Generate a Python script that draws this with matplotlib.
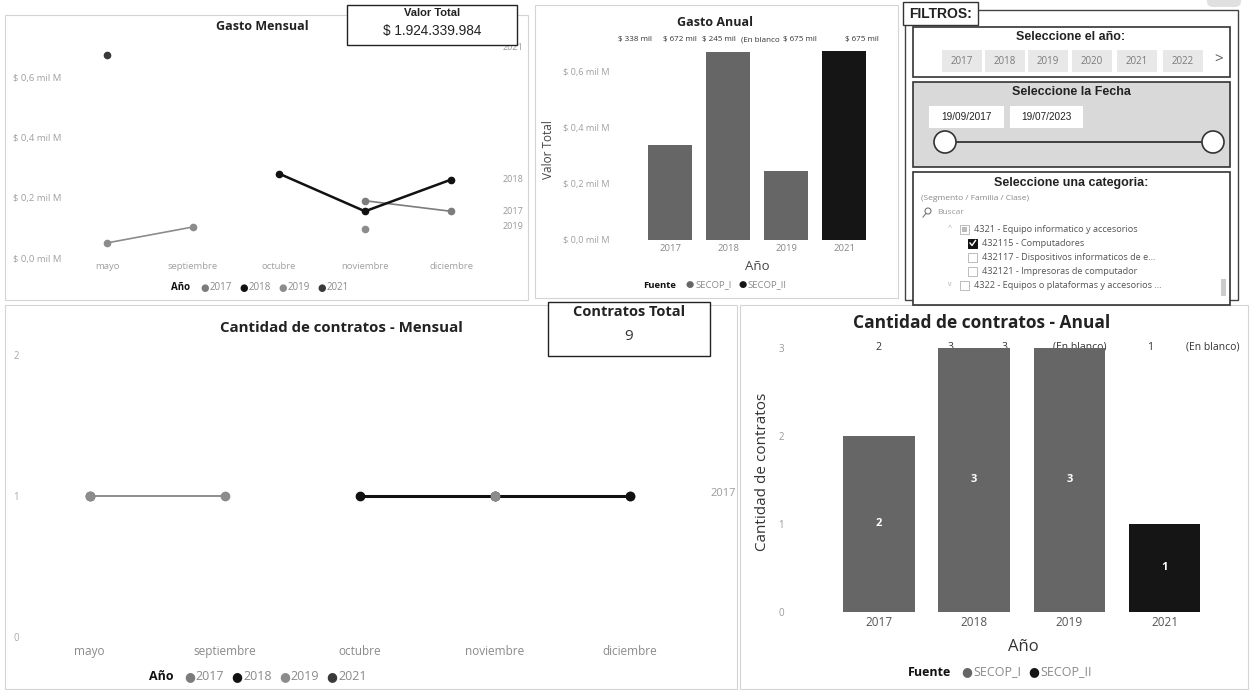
import numpy as np
import matplotlib
matplotlib.use('Agg')
import matplotlib.pyplot as plt
from matplotlib.patches import Rectangle, Circle, FancyBboxPatch

W, H = 1250, 690
nan = np.nan

# ---- datos ----
meses = ['mayo', 'septiembre', 'octubre', 'noviembre', 'diciembre']
anios = ['2017', '2018', '2019', '2021']

# gasto mensual (mil M)
gasto_2017 = [nan, nan, nan, 0.19, 0.155]
gasto_2018 = [nan, nan, 0.28, 0.155, 0.26]
gasto_2019 = [0.05, 0.103, nan, 0.097, nan]
gasto_2021 = [0.675, nan, nan, nan, nan]

# cantidad de contratos mensual
cont_2017 = [nan, nan, nan, 1, 1]
cont_2018 = [nan, nan, 1, 1, 1]
cont_2019 = [1, 1, nan, 1, nan]
cont_2021 = [1, nan, nan, nan, nan]

# anual
fuente_anual = ['SECOP_I', 'SECOP_I', 'SECOP_I', 'SECOP_II']
gasto_anual = [0.338, 0.672, 0.245, 0.675]
cont_anual = [2, 3, 3, 1]
etiq_gasto = ['$ 338 mil', '$ 672 mil', '$ 245 mil', '(En blanco', '$ 675 mil', '$ 675 mil']
etiq_cont = ['2', '3', '3', '(En blanco)', '1', '(En blanco)']

valor_total = 1924339984

anios_filtro = ['2017', '2018', '2019', '2020', '2021', '2022']
fecha_ini, fecha_fin = '19/09/2017', '19/07/2023'
categorias = ['4321 - Equipo informatico y accesorios',
              '432115 - Computadores',
              '432117 - Dispositivos informaticos de e...',
              '432121 - Impresoras de computador',
              '4322 - Equipos o plataformas y accesorios ...']

col_anio = {'2017': '#7c7c7c', '2018': '#111111', '2019': '#8c8c8c', '2021': '#3a3a3a'}
col_fuente = {'SECOP_I': '#666666', 'SECOP_II': '#151515'}

SEGOE = ['Open Sans', 'DejaVu Sans']
ARIAL = ['Liberation Sans', 'DejaVu Sans']

fig = plt.figure(figsize=(12.5, 6.9), dpi=100)
fig.patch.set_facecolor('white')

bg = fig.add_axes([0, 0, 1, 1])
bg.set_xlim(0, W)
bg.set_ylim(H, 0)
bg.axis('off')


def rect_px(x0, y0, x1, y1):
    return [x0 / W, 1 - y1 / H, (x1 - x0) / W, (y1 - y0) / H]


def clean(ax):
    ax.set_facecolor('none')
    for s in ax.spines.values():
        s.set_visible(False)
    ax.tick_params(length=0)


def box(ax, x0, y0, x1, y1, fc='none', ec='#333333', lw=1.0, z=1):
    ax.add_patch(Rectangle((x0, y0), x1 - x0, y1 - y0, fc=fc, ec=ec, lw=lw, zorder=z))


def legend_row(cx, y, title, labels, colors, fs, lab_color='#8a8a8a'):
    r = fig.canvas.get_renderer()
    parts = [(title, '#111111', 'bold', 10)]
    for lab, c in zip(labels, colors):
        parts.append(('●', c, 'normal', 1))
        parts.append((lab, lab_color, 'normal', 7))
    texts = []
    for s, c, w, g in parts:
        t = bg.text(0, y, s, fontsize=fs, color=c, fontweight=w, va='center',
                    ha='left', family=SEGOE)
        texts.append((t, g))
    widths = [t.get_window_extent(r).width for t, g in texts]
    total = sum(widths) + sum(g for t, g in texts[:-1])
    x = cx - total / 2
    for (t, g), w in zip(texts, widths):
        t.set_x(x)
        x += w + g


# panel borders
for (x0, y0, x1, y1) in [(5, 15, 528, 300), (535, 5, 898, 298),
                         (5, 305, 737, 689), (740, 305, 1248, 689)]:
    box(bg, x0, y0, x1, y1, ec='#d4d4d4', lw=0.8)

# ---- Gasto Mensual ----
ax1 = fig.add_axes(rect_px(64, 41, 494, 258))
clean(ax1)
x = np.arange(len(meses))
series_g = {'2021': gasto_2021, '2017': gasto_2017, '2018': gasto_2018, '2019': gasto_2019}
for a, vals in series_g.items():
    ax1.plot(x, vals, '-o', color=col_anio[a], lw=1.8 if a == '2018' else 1.2,
             ms=4.5, zorder=3)
    v = np.array(vals, dtype=float)
    last = v[~np.isnan(v)][-1]
    off = {'2021': 0.025, '2018': 0.0, '2017': 0.0, '2019': 0.006}[a]
    ax1.text(4.6, last + off, a, fontsize=6.5, color='#999999', va='center',
             family=SEGOE, clip_on=False)
ax1.set_xlim(-0.5, 4.5)
ax1.set_ylim(0, 0.72)
ax1.set_xticks(x)
ax1.set_xticklabels(meses, fontsize=6.8, color='#a0a0a0', family=SEGOE)
ax1.set_yticks([0, 0.2, 0.4, 0.6])
ax1.set_yticklabels(['$ 0,0 mil M', '$ 0,2 mil M', '$ 0,4 mil M', '$ 0,6 mil M'],
                    fontsize=6.8, color='#a0a0a0', family=SEGOE)
ax1.tick_params(axis='x', pad=3)
ax1.tick_params(axis='y', pad=2)
bg.text(262, 27, 'Gasto Mensual', fontsize=9, fontweight='bold', ha='center',
        va='center', family=SEGOE, color='#222222')
legend_row(260, 288, 'Año', anios, [col_anio[a] for a in anios], 7)

# ---- Gasto Anual ----
ax2 = fig.add_axes(rect_px(612, 40, 880, 240))
clean(ax2)
xb = np.arange(len(anios))
ax2.bar(xb, gasto_anual, width=0.77, color=[col_fuente[f] for f in fuente_anual])
ax2.set_xlim(-1.0, 3.62)
ax2.set_ylim(0, 0.714)
ax2.set_xticks(xb)
ax2.set_xticklabels(anios, fontsize=6.8, color='#888888', family=SEGOE)
ax2.set_yticks([0, 0.2, 0.4, 0.6])
ax2.set_yticklabels(['$ 0,0 mil M', '$ 0,2 mil M', '$ 0,4 mil M', '$ 0,6 mil M'],
                    fontsize=6.6, color='#a0a0a0', family=SEGOE)
ax2.tick_params(axis='y', pad=2)
ax2.tick_params(axis='x', pad=3)
for s, px in zip(etiq_gasto, [635, 680, 719, 760, 800, 862]):
    bg.text(px, 40, s, fontsize=5.8, color='#333333', ha='center', va='center', family=SEGOE)
bg.text(715, 22, 'Gasto Anual', fontsize=9, fontweight='bold', ha='center',
        va='center', family=SEGOE, color='#222222')
bg.text(548, 150, 'Valor Total', fontsize=8.5, rotation=90, ha='center', va='center',
        family=SEGOE, color='#444444')
bg.text(757, 267, 'Año', fontsize=9.5, ha='center', va='center', family=SEGOE, color='#444444')
legend_row(715, 285, 'Fuente', ['SECOP_I', 'SECOP_II'],
           [col_fuente['SECOP_I'], col_fuente['SECOP_II']], 6.8)

# ---- Cantidad de contratos - Mensual ----
ax3 = fig.add_axes(rect_px(22, 355, 697, 637))
clean(ax3)
series_c = {'2021': cont_2021, '2017': cont_2017, '2018': cont_2018, '2019': cont_2019}
for a, vals in series_c.items():
    ax3.plot(x, vals, '-o', color=col_anio[a], lw=2.2 if a == '2018' else 1.4,
             ms=6, zorder=3)
ax3.text(4.6, 1.02, '2017', fontsize=8, color='#999999', va='center', family=SEGOE,
         clip_on=False)
ax3.set_xlim(-0.5, 4.5)
ax3.set_ylim(0, 2)
ax3.set_xticks(x)
ax3.set_xticklabels(meses, fontsize=8.5, color='#8a8a8a', family=SEGOE)
ax3.set_yticks([0, 1, 2])
ax3.set_yticklabels(['0', '1', '2'], fontsize=7, color='#aaaaaa', family=SEGOE)
ax3.tick_params(axis='y', pad=2)
ax3.tick_params(axis='x', pad=6)
bg.text(341, 328, 'Cantidad de contratos - Mensual', fontsize=10.8, fontweight='bold',
        ha='center', va='center', family=SEGOE, color='#222222')
legend_row(258, 677, 'Año', anios, [col_anio[a] for a in anios], 9)

# ---- Cantidad de contratos - Anual ----
ax4 = fig.add_axes(rect_px(795, 339, 1240, 612))
clean(ax4)
ax4.bar(xb, cont_anual, width=0.75, color=[col_fuente[f] for f in fuente_anual])
for i, v in enumerate(cont_anual):
    ax4.text(i, v / 2, str(v), color='white', fontsize=8, fontweight='bold',
             ha='center', va='center', family=SEGOE)
ax4.set_xlim(-0.88, 3.79)
ax4.set_ylim(0, 3.1)
ax4.set_xticks(xb)
ax4.set_xticklabels(anios, fontsize=8.5, color='#555555', family=SEGOE)
ax4.set_yticks([0, 1, 2, 3])
ax4.set_yticklabels(['0', '1', '2', '3'], fontsize=7, color='#999999', family=SEGOE)
ax4.tick_params(axis='y', pad=8)
ax4.tick_params(axis='x', pad=3)
for s, px in zip(etiq_cont, [878, 950, 1005, 1080, 1150, 1213]):
    bg.text(px, 347, s, fontsize=7.5, color='#333333', ha='center', va='center', family=SEGOE)
bg.text(982, 323, 'Cantidad de contratos - Anual', fontsize=12.5, fontweight='bold',
        ha='center', va='center', family=SEGOE, color='#222222')
bg.text(763, 472, 'Cantidad de contratos', fontsize=11, rotation=90, ha='center',
        va='center', family=SEGOE, color='#333333')
bg.text(1023, 647, 'Año', fontsize=12, ha='center', va='center', family=SEGOE, color='#333333')
legend_row(1000, 672, 'Fuente', ['SECOP_I', 'SECOP_II'],
           [col_fuente['SECOP_I'], col_fuente['SECOP_II']], 9)

# ---- Filtros ----
bg.add_patch(FancyBboxPatch((1207, -8), 34, 15, boxstyle='round,pad=0,rounding_size=6',
                            fc='#e0e0e0', ec='none'))
box(bg, 905, 10, 1238, 300, ec='#444444', lw=1.0)
box(bg, 903, 2, 978, 25, fc='white', ec='#333333', lw=1.0, z=2)
bg.text(909, 14, 'FILTROS:', fontsize=10, fontweight='bold', ha='left', va='center',
        family=ARIAL, color='#222222', zorder=3)

box(bg, 913, 27, 1230, 77, fc='white', ec='#333333', lw=1.2)
bg.text(1071, 37, 'Seleccione el año:', fontsize=9, fontweight='bold', ha='center',
        va='center', family=ARIAL, color='#222222')
for a, cx in zip(anios_filtro, [962, 1005, 1048, 1092, 1137, 1183]):
    box(bg, cx - 20, 50, cx + 20, 72, fc='#e8e8e8', ec='none', z=2)
    bg.text(cx, 61, a, fontsize=7, color='#7a7a7a', ha='center', va='center',
            family=SEGOE, zorder=3)
bg.text(1219, 60, '>', fontsize=11, color='#555555', ha='center', va='center', family=SEGOE)

box(bg, 913, 82, 1230, 167, fc='#d9d9d9', ec='#333333', lw=1.2)
bg.text(1071, 92, 'Seleccione la Fecha', fontsize=9, fontweight='bold', ha='center',
        va='center', family=ARIAL, color='#222222')
for s, (x0, x1) in zip([fecha_ini, fecha_fin], [(929, 1004), (1010, 1083)]):
    box(bg, x0, 106, x1, 128, fc='white', ec='none', z=2)
    bg.text((x0 + x1) / 2, 117, s, fontsize=7.2, color='#222222', ha='center', va='center',
            family=ARIAL, zorder=3)
bg.plot([945, 1213], [142, 142], color='#333333', lw=1.3, zorder=2)
for cx in [945, 1213]:
    bg.add_patch(Circle((cx, 142), 11, fc='white', ec='#333333', lw=1.2, zorder=3))

box(bg, 913, 172, 1230, 305, fc='white', ec='#333333', lw=1.2)
bg.text(1071, 183, 'Seleccione una categoria:', fontsize=9, fontweight='bold', ha='center',
        va='center', family=ARIAL, color='#222222')
bg.text(921, 198, '(Segmento / Familia / Clase)', fontsize=6, color='#888888',
        ha='left', va='center', family=SEGOE)
bg.add_patch(Circle((928, 211), 3, fc='none', ec='#777777', lw=0.8))
bg.plot([926, 923], [213.5, 217], color='#777777', lw=0.8)
bg.text(937, 213, 'Buscar', fontsize=6, color='#999999', ha='left', va='center', family=SEGOE)

filas_y = [229, 243, 257, 271, 285]
nivel = [0, 1, 1, 1, 0]
for s, yy, n in zip(categorias, filas_y, nivel):
    if n == 0:
        bg.text(950, yy, '^' if yy == filas_y[0] else 'v', fontsize=5, color='#aaaaaa',
                ha='center', va='center', family=SEGOE)
        bx = 960
    else:
        bx = 968
    box(bg, bx, yy - 4.5, bx + 9, yy + 4.5, fc='white', ec='#bbbbbb', lw=0.7, z=2)
    bg.text(bx + 14, yy, s, fontsize=6.6, color='#555555', ha='left', va='center',
            family=SEGOE)
box(bg, 962, 226.5, 967, 231.5, fc='#bbbbbb', ec='none', z=3)
box(bg, 968, 238.5, 977, 247.5, fc='#111111', ec='#111111', lw=0.7, z=3)
bg.plot([970, 972, 975.5], [243, 245.5, 240.5], color='white', lw=1, zorder=4)
box(bg, 1221, 279, 1226, 296, fc='#cccccc', ec='none', z=3)

# ---- tarjetas ----
fg = fig.add_axes([0, 0, 1, 1])
fg.set_xlim(0, W)
fg.set_ylim(H, 0)
fg.axis('off')
box(fg, 347, 5, 517, 45, fc='white', ec='#222222', lw=1.0)
fg.text(432, 13, 'Valor Total', fontsize=8, fontweight='bold', ha='center', va='center',
        family=ARIAL, color='#222222')
fg.text(432, 31, '$ ' + f'{valor_total:,}'.replace(',', '.'), fontsize=9.8, ha='center',
        va='center', family=ARIAL, color='#222222')
box(fg, 548, 302, 710, 356, fc='white', ec='#222222', lw=1.0)
fg.text(629, 312, 'Contratos Total', fontsize=10.5, fontweight='bold', ha='center',
        va='center', family=SEGOE, color='#222222')
fg.text(629, 337, str(sum(cont_anual)), fontsize=11, ha='center', va='center',
        family=SEGOE, color='#333333')

fig.savefig('out.png', dpi=100)
